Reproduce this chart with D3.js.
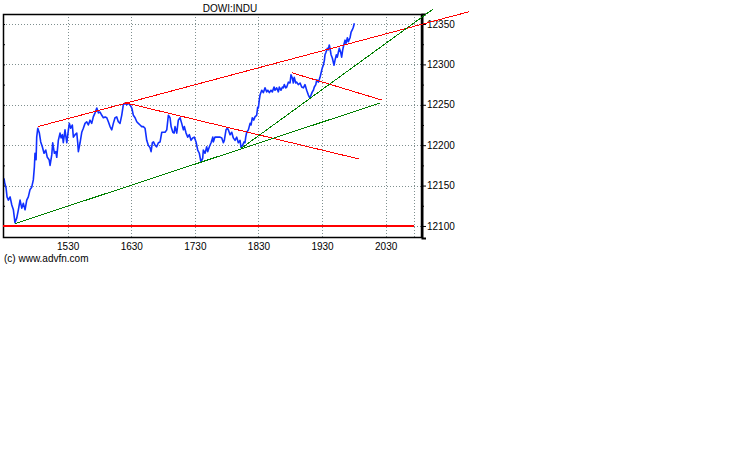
<!DOCTYPE html>
<html><head><meta charset="utf-8">
<script src="https://cdn.jsdelivr.net/npm/d3@7"></script>
<style>
body{margin:0;background:#fff}
svg{display:block}
text{font-family:"Liberation Sans",Arial,sans-serif;fill:#000}
</style></head><body>
<script>
const title = "DOWI:INDU";
const copyright = "(c) www.advfn.com";
// minutes after 14:30
const minutes = [0,0.5,1.9,2.8,4.1,5.7,7.3,8.8,10.3,12.0,13.5,15.1,16.7,18.2,19.8,21.4,22.9,24.5,26.1,27.6,28.6,29.2,30.2,30.8,31.8,33.3,34.6,36.1,37.7,39.3,40.8,42.5,43.4,45.0,45.9,47.5,48.8,49.7,51.2,52.8,53.8,55.0,55.9,57.5,58.5,59.2,60.7,61.6,62.9,64.4,65.4,67.0,68.6,69.5,70.1,71.7,73.3,74.8,76.4,78.0,79.5,81.1,82.7,84.2,85.8,87.5,89.0,90.6,92.2,93.7,95.3,96.9,98.4,100.0,101.6,103.1,104.7,106.3,107.8,109.4,111.0,112.5,114.1,115.8,117.3,118.9,120.5,122.0,123.6,125.2,126.7,128.3,129.9,131.4,133.0,134.6,136.1,137.7,138.7,139.9,141.0,142.4,144.0,145.6,147.2,148.8,150.3,151.9,153.5,155.0,156.6,157.6,159.2,160.4,161.3,162.9,164.4,166.0,167.6,169.2,170.1,171.7,173.3,174.8,176.4,178.0,179.5,181.1,182.7,184.2,185.8,187.4,188.0,189.6,191.2,192.1,193.7,195.3,196.9,197.4,199.0,200.7,202.2,203.8,205.4,206.9,207.8,209.4,210.7,211.6,213.2,214.8,216.3,217.9,219.5,221.0,222.6,223.6,225.1,226.4,227.3,228.0,228.9,230.5,232.1,233.0,234.2,235.5,236.7,238.3,239.3,239.9,240.8,241.5,243.1,244.6,246.2,247.8,248.8,250.3,251.8,253.1,254.7,255.6,257.2,258.8,259.7,261.3,262.6,263.5,264.4,265.8,266.7,268.2,269.8,270.7,272.0,272.9,273.8,275.2,276.1,277.6,279.3,280.8,282.4,283.9,285.5,287.1,288.7,289.6,290.8,291.8,292.7,294.1,295.0,296.5,298.1,299.0,300.3,301.2,302.2,302.8,303.7,305.0,305.9,306.8,307.5,308.5,309.7,311.3,312.2,313.5,314.4,315.4,316.3,317.6,318.5,319.5,320.5,321.7,322.6,323.9,324.8,326.4,327.4,328.6,329.5,330.5];
const values = [12159,12154,12147,12136,12132,12136,12126,12120,12104,12110,12120,12132,12122,12128,12120,12132,12136,12145,12148,12157,12173,12190,12182,12210,12221,12215,12204,12198,12190,12194,12185,12182,12175,12188,12203,12190,12192,12185,12206,12215,12209,12213,12203,12219,12209,12203,12219,12227,12221,12225,12210,12213,12215,12203,12192,12203,12216,12221,12227,12229,12225,12231,12227,12235,12240,12246,12240,12241,12237,12234,12235,12234,12229,12223,12219,12227,12234,12235,12229,12227,12237,12250,12252,12250,12252,12250,12246,12237,12234,12229,12227,12225,12223,12223,12221,12206,12200,12197,12192,12203,12204,12200,12198,12203,12204,12216,12216,12216,12219,12237,12234,12223,12216,12215,12223,12215,12231,12234,12227,12219,12223,12215,12210,12213,12206,12209,12210,12204,12194,12190,12179,12184,12194,12190,12198,12192,12198,12203,12210,12204,12210,12210,12210,12210,12209,12203,12206,12219,12221,12219,12213,12216,12209,12206,12210,12203,12206,12197,12200,12204,12203,12210,12216,12219,12227,12225,12234,12231,12235,12237,12247,12246,12256,12262,12268,12265,12271,12266,12268,12265,12268,12266,12272,12268,12271,12266,12272,12268,12272,12271,12275,12271,12272,12278,12277,12287,12283,12277,12284,12277,12278,12275,12277,12272,12271,12275,12268,12262,12258,12262,12266,12268,12272,12275,12281,12278,12284,12289,12296,12299,12305,12312,12315,12320,12318,12324,12320,12312,12308,12299,12305,12312,12309,12315,12320,12315,12309,12318,12324,12330,12326,12333,12328,12333,12340,12343,12346,12351];
const xTickValues = [60,120,180,240,300,360];
const xTickLabels = ["1530","1630","1730","1830","1930","2030"];
const yTickValues = [12100,12150,12200,12250,12300,12350];
const yMinorTicks = [12125,12175,12225,12275,12325];
const sessionEnd = 387;
const redLines = [
  [[31.7,12222.9],[438.6,12365.2]],
  [[114.1,12252.6],[334.9,12182.9]],
  [[271.4,12289.7],[356.3,12255.9]]
];
const supportLevel = [[-1,12100],[387,12100]];
const greenLines = [
  [[10.5,12103],[354.7,12252.2]],
  [[223.5,12195.9],[404.4,12368.2]]
];

const W = 738, H = 475;
const L = 3, R = 422, T = 14, B = 238;
const svg = d3.select("body").append("svg").attr("width", W).attr("height", H);
const x = d3.scaleLinear().domain([-1, 394.3]).range([L, R]);
const y = d3.scaleLinear().domain([12085.1, 12362.4]).range([B, T]);

// grid
const grid = svg.append("g").attr("stroke", "#7f8f8f").attr("stroke-width", 1)
  .attr("stroke-dasharray", "1,2").attr("shape-rendering", "crispEdges");
grid.selectAll(".vg").data(xTickValues.concat([sessionEnd])).join("line")
  .attr("x1", d => Math.round(x(d)) + 0.5).attr("x2", d => Math.round(x(d)) + 0.5)
  .attr("y1", T).attr("y2", B);
grid.selectAll(".hg").data(yTickValues).join("line")
  .attr("x1", L).attr("x2", R)
  .attr("y1", d => Math.round(y(d)) + 0.5).attr("y2", d => Math.round(y(d)) + 0.5);

// price line
const data = minutes.map((m, i) => [m, values[i]]);
svg.append("path").datum(data)
  .attr("fill", "none").attr("stroke", "#1030ff").attr("stroke-width", 1.6)
  .attr("stroke-linejoin", "round")
  .attr("d", d3.line().x(d => x(d[0])).y(d => y(d[1])));

// frame
svg.append("rect").attr("x", L + 0.5).attr("y", T + 0.5).attr("width", R - L - 1).attr("height", B - T - 1)
  .attr("fill", "none").attr("stroke", "#000").attr("stroke-width", 1.5);

// axes
const yAxis = d3.axisRight(y).tickValues(yTickValues).tickSize(4).tickPadding(1).tickFormat(d3.format("d"));
const ga = svg.append("g").attr("transform", `translate(${R},0)`).call(yAxis);
ga.select(".domain").attr("stroke-width", 2);
ga.selectAll("text").attr("font-size", 10).attr("font-family", "Liberation Sans, Arial, sans-serif");
const gm = svg.append("g").attr("transform", `translate(${R},0)`)
  .call(d3.axisRight(y).tickValues(yMinorTicks).tickSize(2).tickFormat(""));
gm.select(".domain").remove();
const gl = svg.append("g").attr("transform", `translate(${L},0)`)
  .call(d3.axisRight(y).tickValues(yTickValues.concat(yMinorTicks)).tickSize(2).tickFormat(""));
gl.select(".domain").remove();

const xAxis = d3.axisBottom(x).tickValues(xTickValues).tickSize(0).tickPadding(5)
  .tickFormat((d, i) => xTickLabels[i]);
const gx = svg.append("g").attr("transform", `translate(0,${B})`).call(xAxis);
gx.select(".domain").remove();
gx.selectAll("text").attr("font-size", 10).attr("font-family", "Liberation Sans, Arial, sans-serif");

// trend lines
const tl = d3.line().x(d => x(d[0])).y(d => y(d[1]));
const tg = svg.append("g").attr("fill", "none").attr("shape-rendering", "crispEdges");
tg.selectAll(".red").data(redLines).join("path")
  .attr("d", tl).attr("stroke", "#ff0000").attr("stroke-width", 1);
tg.append("path").datum(supportLevel)
  .attr("d", tl).attr("stroke", "#ff0000").attr("stroke-width", 1.2);
tg.selectAll(".green").data(greenLines).join("path")
  .attr("d", tl).attr("stroke", "#008000").attr("stroke-width", 1);

// texts
svg.append("text").attr("x", 230).attr("y", 12).attr("text-anchor", "middle")
  .attr("font-size", 10).text(title);
svg.append("text").attr("x", 4).attr("y", 262).attr("font-size", 10).text(copyright);
</script>
</body></html>
